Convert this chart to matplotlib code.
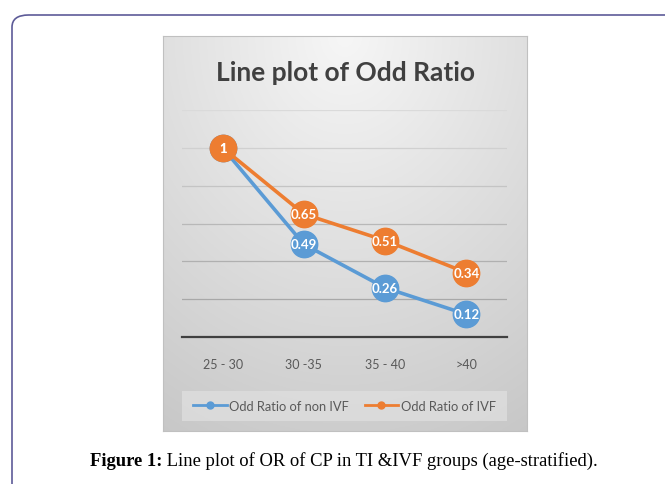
import numpy as np
import matplotlib
matplotlib.use("Agg")
import matplotlib.pyplot as plt
from matplotlib.patches import FancyBboxPatch, Rectangle
from matplotlib.lines import Line2D

# data
age_groups = ["25 - 30", "30 -35", "35 - 40", ">40"]
or_non_ivf = [1, 0.49, 0.26, 0.12]
or_ivf = [1, 0.65, 0.51, 0.34]
label_non_ivf = "Odd Ratio of non IVF"
label_ivf = "Odd Ratio of IVF"

BLUE = "#5B9BD5"
ORANGE = "#ED7D31"
W, H = 665, 485
FONT = ["Lato", "DejaVu Sans"]

fig = plt.figure(figsize=(W / 100, H / 100), dpi=100)

def fx(px): return px / W
def fy(py): return 1 - py / H

# outer rounded frame (runs off the right/bottom edge)
fig.patches.append(FancyBboxPatch((fx(12), fy(520)), fx(700), fy(16) - fy(520),
                                  boxstyle="round,pad=0,rounding_size=0.025",
                                  transform=fig.transFigure, fill=False,
                                  ec="#5d5b98", lw=1.2))

# chart panel with a radial grey gradient
panel = fig.add_axes([fx(163), fy(432), fx(527) - fx(163), fy(37) - fy(432)])
yy, xx = np.mgrid[0:1:300j, 0:1:300j]
d = np.sqrt(((xx - 0.5) * 1.1) ** 2 + (yy * 1.0) ** 2)
g = 0.965 - 0.16 * np.clip(d, 0, 1.2)
panel.imshow(np.dstack([g, g, g]), extent=[0, 1, 0, 1], origin="upper", aspect="auto")
panel.set_xlim(0, 1); panel.set_ylim(0, 1)
panel.set_xticks([]); panel.set_yticks([])
for s in panel.spines.values():
    s.set_color("#c0c0c0"); s.set_linewidth(0.8)

panel.text(0.5, 0.91, "Line plot of Odd Ratio", ha="center", va="center",
           fontsize=19, fontweight="bold", color="#404040", family=FONT,
           transform=panel.transAxes)

# plot area
ax = fig.add_axes([fx(182), fy(338), fx(507) - fx(182), fy(111) - fy(338)])
ax.patch.set_alpha(0)
x = np.arange(len(age_groups))
ax.set_xlim(-0.5, len(age_groups) - 0.5)
ax.set_ylim(0, 1.2)
ax.set_yticks(np.arange(0, 1.21, 0.2))
ax.yaxis.grid(True)
grid_cols = ["#404040", "#a8a8a8", "#b0b0b0", "#b8b8b8", "#c4c4c4", "#d0d0d0", "#dadada"]
for gl, c in zip(ax.get_ygridlines(), grid_cols):
    gl.set_color(c); gl.set_linewidth(0.9)
ax.tick_params(axis="y", left=False, labelleft=False)
ax.tick_params(axis="x", length=0, pad=15, labelsize=9, labelcolor="#595959")
ax.set_xticks(x)
ax.set_xticklabels(age_groups, family=FONT)
for s in ["left", "right", "top"]:
    ax.spines[s].set_visible(False)
ax.spines["bottom"].set_color("#404040")
ax.spines["bottom"].set_linewidth(1.6)
ax.spines["bottom"].set_zorder(1)

for vals, col in [(or_non_ivf, BLUE), (or_ivf, ORANGE)]:
    ax.plot(x, vals, "-", color=col, lw=2.6, marker="o", ms=19, mec=col, clip_on=False, zorder=3)
    for xi, v in zip(x, vals):
        ax.text(xi, v, f"{v:g}", ha="center", va="center", color="white", fontsize=9.5,
                fontweight="bold", family=FONT, zorder=4)

# legend box
fig.patches.append(Rectangle((fx(182), fy(422)), fx(507) - fx(182), fy(392) - fy(422),
                             transform=fig.transFigure, fc="#dedede", ec="none", alpha=0.8))
handles = [Line2D([], [], color=BLUE, lw=2, marker="o", ms=5),
           Line2D([], [], color=ORANGE, lw=2, marker="o", ms=5)]
fig.legend(handles, [label_non_ivf, label_ivf], loc="center",
           bbox_to_anchor=(fx(344.5), fy(407)), ncol=2, frameon=False,
           prop={"family": FONT, "size": 9.3}, labelcolor="#595959",
           handlelength=2.6, handletextpad=0.2, columnspacing=1.2)

# caption
fig.canvas.draw()
r = fig.canvas.get_renderer()
cap_b = fig.text(0, fy(466), "Figure 1:", fontsize=13.4, fontweight="bold",
                 family="Liberation Serif", va="baseline")
cap_r = fig.text(0, fy(466), " Line plot of OR of CP in TI &IVF groups (age-stratified).",
                 fontsize=13.4, family="Liberation Serif", va="baseline")
wb = cap_b.get_window_extent(r).width
wr = cap_r.get_window_extent(r).width
x0 = 344 - (wb + wr) / 2
cap_b.set_x(fx(x0))
cap_r.set_x(fx(x0 + wb))

fig.savefig("out.png", dpi=100)
